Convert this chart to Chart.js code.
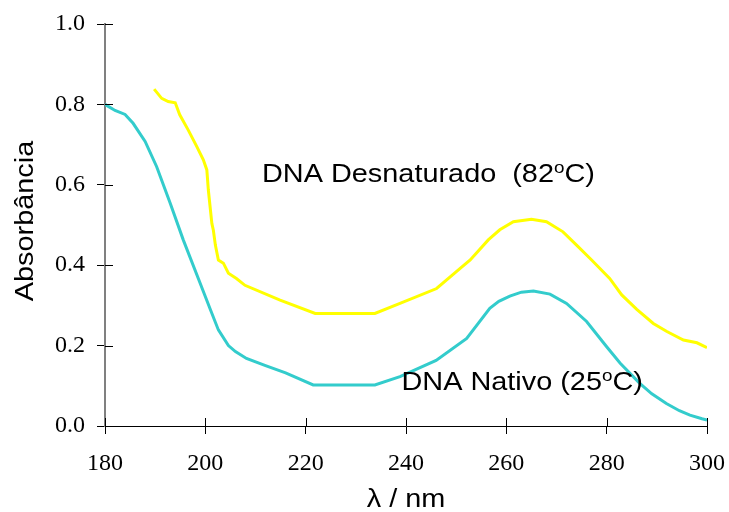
<!DOCTYPE html>
<html>
<head>
<meta charset="utf-8">
<script src="https://cdn.jsdelivr.net/npm/chart.js@4"></script>
<style>
  html, body { margin: 0; padding: 0; background: #fff; }
  #wrap { width: 729px; height: 512px; }
</style>
</head>
<body>
<div id="wrap"><canvas id="chart"></canvas></div>
<script>
// dados
const nativoLambda = [180, 182, 184, 185.6, 188, 190.3, 193, 195.6, 198.6, 201, 202.6, 204.6, 206, 208.2, 212, 216, 221.5, 233.8, 238.8, 246, 252.1, 256.7, 258.5, 260.7, 263, 265.4, 268.7, 272, 276, 280, 282.7, 286.6, 289, 291.9, 294.5, 296.6, 299, 300];
const nativoAbs = [0.80, 0.785, 0.775, 0.753, 0.708, 0.645, 0.554, 0.463, 0.367, 0.29, 0.239, 0.20, 0.185, 0.168, 0.150, 0.132, 0.102, 0.102, 0.123, 0.163, 0.218, 0.293, 0.31, 0.323, 0.333, 0.336, 0.328, 0.305, 0.26, 0.197, 0.156, 0.106, 0.08, 0.056, 0.038, 0.027, 0.018, 0.015];

const desnatLambda = [189.8, 191.3, 192.6, 194, 194.9, 196.6, 198.3, 199.6, 200.3, 200.6, 201.3, 201.6, 202, 202.6, 203.6, 204.6, 206.2, 207.9, 214.9, 221.9, 233.8, 238.8, 246.1, 250.8, 252.8, 256.4, 258.7, 261.4, 265, 268, 271.3, 274, 277, 280.6, 283, 286, 289.3, 292, 295.3, 298, 300];
const desnatAbs = [0.838, 0.815, 0.807, 0.804, 0.774, 0.736, 0.695, 0.662, 0.637, 0.587, 0.504, 0.487, 0.45, 0.413, 0.405, 0.38, 0.367, 0.35, 0.313, 0.28, 0.28, 0.305, 0.342, 0.392, 0.413, 0.463, 0.488, 0.508, 0.514, 0.508, 0.483, 0.45, 0.413, 0.367, 0.326, 0.29, 0.255, 0.235, 0.214, 0.207, 0.195];

const xTicks = [180, 200, 220, 240, 260, 280, 300];
const yTicks = [0.0, 0.2, 0.4, 0.6, 0.8, 1.0];

const xTitle = 'λ / nm';
const yTitle = 'Absorbância';

// rótulos das curvas (posição em coordenadas dos dados, canto esquerdo na linha de base)
const rotulos = [
    { pre: 'DNA Desnaturado  (82', post: 'C)', x: 211.3, y: 0.608 },
    { pre: 'DNA Nativo (25', post: 'C)', x: 239.1, y: 0.09 }
];

const SANS = '"Liberation Sans", Arial, sans-serif';
const STRETCH = 1.11;   // o texto original é um pouco alargado

function toPoints(xs, ys) {
    return xs.map((x, i) => ({ x: x, y: ys[i] }));
}

// marcas atravessando os eixos + textos
const extras = {
    id: 'extras',
    afterDraw(chart) {
        const ctx = chart.ctx;
        const xs = chart.scales.x, ys = chart.scales.y;
        const area = chart.chartArea;
        ctx.save();
        ctx.strokeStyle = '#000';
        ctx.lineWidth = 1;
        ctx.beginPath();
        xTicks.forEach(v => {
            const px = Math.round(xs.getPixelForValue(v)) + 0.5;
            ctx.moveTo(px, ys.bottom);
            ctx.lineTo(px, ys.bottom - 8);
        });
        yTicks.forEach(v => {
            const py = Math.round(ys.getPixelForValue(v)) + 0.5;
            ctx.moveTo(xs.left, py);
            ctx.lineTo(xs.left + 8, py);
        });
        ctx.stroke();

        ctx.fillStyle = '#000';
        ctx.textBaseline = 'alphabetic';

        // rótulos das curvas, grau em sobrescrito
        rotulos.forEach(r => {
            ctx.save();
            ctx.translate(xs.getPixelForValue(r.x), ys.getPixelForValue(r.y));
            ctx.scale(STRETCH, 1);
            let cx = 0;
            ctx.font = '26px ' + SANS;
            ctx.fillText(r.pre, cx, 0);
            cx += ctx.measureText(r.pre).width;
            ctx.font = '17px ' + SANS;
            ctx.fillText('o', cx, -9);
            cx += ctx.measureText('o').width;
            ctx.font = '26px ' + SANS;
            ctx.fillText(r.post, cx, 0);
            ctx.restore();
        });

        // título do eixo x
        ctx.save();
        ctx.translate((area.left + area.right) / 2, area.bottom + 81);
        ctx.scale(STRETCH, 1);
        ctx.textAlign = 'center';
        ctx.font = '26px ' + SANS;
        ctx.fillText(xTitle, 0, 0);
        ctx.restore();

        // título do eixo y
        ctx.save();
        ctx.translate(area.left - 72, (area.top + area.bottom) / 2 - 4);
        ctx.rotate(-Math.PI / 2);
        ctx.scale(STRETCH, 1);
        ctx.textAlign = 'center';
        ctx.font = '26px ' + SANS;
        ctx.fillText(yTitle, 0, 0);
        ctx.restore();

        ctx.restore();
    }
};

const ctx = document.getElementById('chart').getContext('2d');
new Chart(ctx, {
    type: 'line',
    data: {
        datasets: [{
            label: 'DNA Desnaturado (82°C)',
            data: toPoints(desnatLambda, desnatAbs),
            borderColor: '#ffff00',
            borderWidth: 3,
            pointRadius: 0,
            tension: 0,
            fill: false
        }, {
            label: 'DNA Nativo (25°C)',
            data: toPoints(nativoLambda, nativoAbs),
            borderColor: '#33cccc',
            borderWidth: 3,
            pointRadius: 0,
            tension: 0,
            fill: false
        }]
    },
    options: {
        responsive: true,
        maintainAspectRatio: false,
        animation: false,
        layout: { padding: { left: 0, right: 22, top: 24, bottom: 0 } },
        plugins: {
            legend: { display: false },
            tooltip: { enabled: false }
        },
        scales: {
            x: {
                type: 'linear',
                min: 180,
                max: 300,
                afterBuildTicks: s => { s.ticks = xTicks.map(v => ({ value: v })); },
                afterFit: s => { s.height = 86; s.paddingLeft = 0; s.paddingRight = 0; },
                ticks: {
                    color: '#000',
                    padding: 15,
                    maxRotation: 0,
                    font: { family: '"Liberation Serif", "Times New Roman", serif', size: 24 },
                    callback: v => String(v)
                },
                grid: { drawOnChartArea: false, drawTicks: true, tickLength: 8, color: '#000' },
                border: { color: '#000', width: 1 }
            },
            y: {
                min: 0,
                max: 1,
                afterBuildTicks: s => { s.ticks = yTicks.map(v => ({ value: v })); },
                afterFit: s => { s.width = 105; s.paddingTop = 0; s.paddingBottom = 0; },
                ticks: {
                    color: '#000',
                    padding: 12,
                    font: { family: '"Liberation Serif", "Times New Roman", serif', size: 24 },
                    callback: v => Number(v).toFixed(1)
                },
                grid: { drawOnChartArea: false, drawTicks: true, tickLength: 8, color: '#000' },
                border: { color: '#808080', width: 2 }
            }
        }
    },
    plugins: [extras]
});
</script>
</body>
</html>
